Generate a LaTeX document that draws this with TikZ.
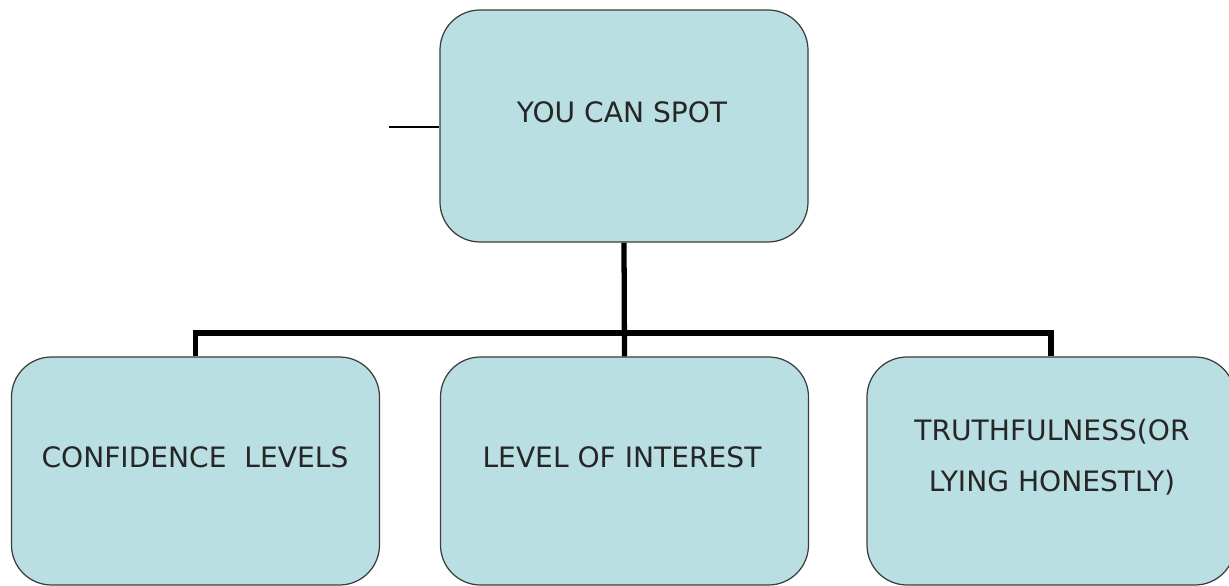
\documentclass[tikz,border=0pt]{standalone}
\usepackage{fontspec}
\setmainfont{DejaVu Sans}
\definecolor{cajaazul}{RGB}{185,223,226}
\definecolor{bordegris}{RGB}{60,60,60}
\tikzset{
	caja/.style={draw=bordegris, line width=0.7pt, fill=cajaazul, rounded corners=0.8cm,
		minimum width=7.36cm, minimum height=4.56cm, inner sep=0pt},
	texto/.style={font=\fontsize{16}{29}\selectfont, align=center, text=black!85},
	rama/.style={line width=3pt}
}
\begin{document}
\begin{tikzpicture}
		\useasboundingbox (0,0) rectangle (24.58,11.72);
		
		% cajas
		\node[caja, minimum height=4.64cm] (spot) at (12.48,9.2) {};
		\node[caja] (conf) at (3.91,2.3) {};
		\node[caja] (interes) at (12.49,2.3) {};
		\node[caja] (verdad) at (21.02,2.3) {};
		
		% textos
		\node[texto] (tspot) at (12.44,9.48) {YOU CAN SPOT};
		\node[texto] (tconf) at (3.9,2.58) {CONFIDENCE~~LEVELS};
		\node[texto] (tinteres) at (12.44,2.58) {LEVEL OF INTEREST};
		\node[texto] (tverdad) at (21.04,2.58) {TRUTHFULNESS(OR\\LYING HONESTLY)};
		
		% conectores
		\coordinate (bus) at (12.48,5.06);
		\coordinate (suelto) at (7.78,9.18);
		\draw[rama] (spot.south) -- (interes.north);
		\draw[rama] (conf.north) |- (bus) -| (verdad.north);
		\draw[line width=0.8pt] (suelto) -- (suelto -| spot.west);
	\end{tikzpicture}
\end{document}
